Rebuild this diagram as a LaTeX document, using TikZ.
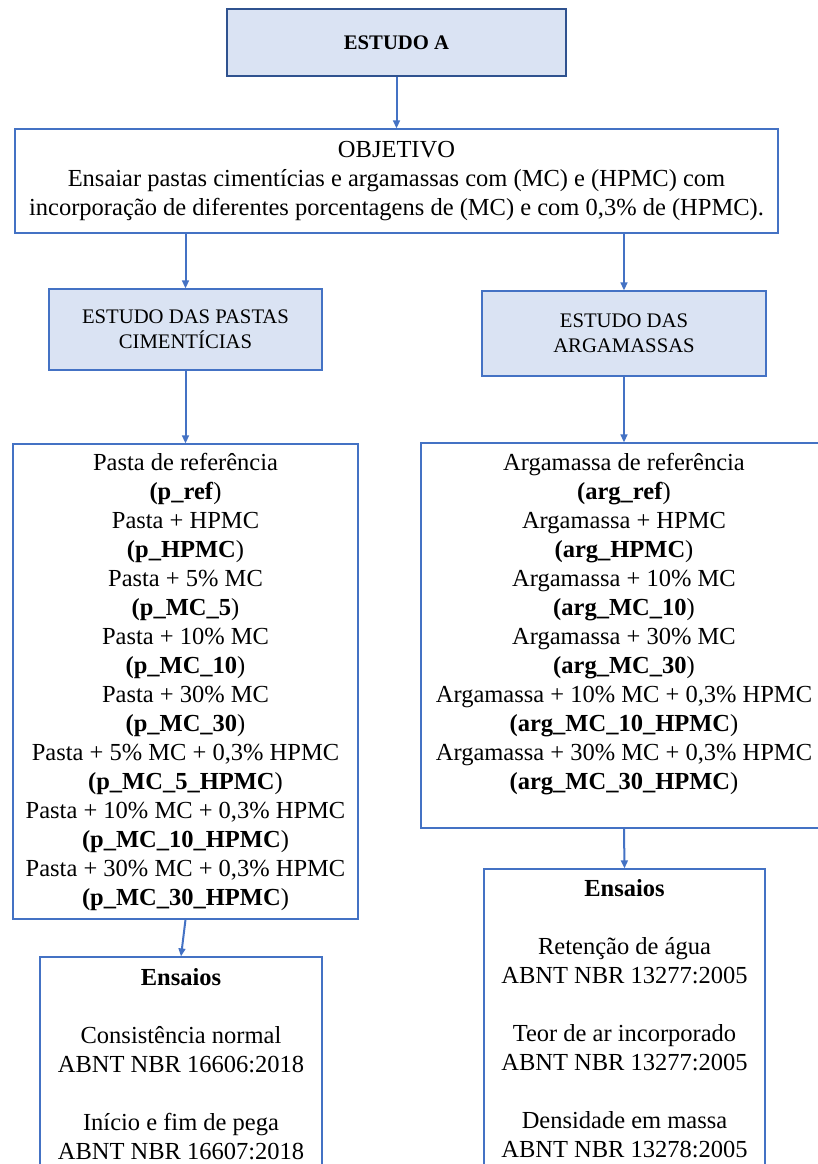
\documentclass[tikz,border=0pt]{standalone}
\usepackage{fontspec}
\setmainfont{Liberation Serif}
\usetikzlibrary{arrows.meta,positioning}
\definecolor{linkblue}{HTML}{4472C4}
\definecolor{boxfill}{HTML}{DAE3F3}
\definecolor{boxline}{HTML}{2F528F}
\newcommand{\bigtxt}{\fontsize{12.25pt}{14.5pt}\selectfont}
\newcommand{\smalltxt}{\fontsize{10.35pt}{12.5pt}\selectfont}
% one sample: description line, then its code in bold
\newcommand{\amostra}[2]{#1\\\textbf{(#2})}

\begin{document}
\begin{tikzpicture}[x=0.5pt,y=-0.5pt,>={Triangle[length=4pt,width=3.4pt]},
  head/.style={draw=boxline,line width=1pt,fill=boxfill,font=\smalltxt\bfseries,
    minimum width=169.5pt,minimum height=33.5pt},
  studybox/.style={draw=linkblue,line width=0.6pt,fill=boxfill,font=\smalltxt,
    align=center,inner sep=2pt},
  listbox/.style={draw=linkblue,line width=0.6pt,fill=white,font=\bigtxt,
    align=center,inner sep=2pt},
  link/.style={->,draw=linkblue,line width=1pt}]

\useasboundingbox (0,0) rectangle (818,1164);
\clip (0,0) rectangle (818,1164);

\node[head] (estudo) at (396.5,42.5) {ESTUDO A};

\node[listbox,minimum width=381.5pt,minimum height=52pt] (obj) at (396.5,181)
  {OBJETIVO\\
   Ensaiar pastas cimentícias e argamassas com (MC) e (HPMC) com\\
   incorporação de diferentes porcentagens de (MC) e com 0,3\% de (HPMC).};

\node[studybox,minimum width=136.5pt,minimum height=40.5pt] (pastas) at (185.5,329.5)
  {ESTUDO DAS PASTAS\\CIMENTÍCIAS};
\node[studybox,minimum width=142pt,minimum height=42.5pt] (argam) at (624,333.5)
  {ESTUDO DAS\\ARGAMASSAS};

% traces of each study
\node[listbox,minimum width=172.5pt,minimum height=237.5pt] (ptracos) at (185.5,681.5)
  {\amostra{Pasta de referência}{p\_ref}\\
   \amostra{Pasta + HPMC}{p\_HPMC}\\
   \amostra{Pasta + 5\% MC}{p\_MC\_5}\\
   \amostra{Pasta + 10\% MC}{p\_MC\_10}\\
   \amostra{Pasta + 30\% MC}{p\_MC\_30}\\
   \amostra{Pasta + 5\% MC + 0,3\% HPMC}{p\_MC\_5\_HPMC}\\
   \amostra{Pasta + 10\% MC + 0,3\% HPMC}{p\_MC\_10\_HPMC}\\
   \amostra{Pasta + 30\% MC + 0,3\% HPMC}{p\_MC\_30\_HPMC}};
\node[listbox,minimum width=203pt,minimum height=192.5pt] (atracos) at (624,635.5)
  {\amostra{Argamassa de referência}{arg\_ref}\\
   \amostra{Argamassa + HPMC}{arg\_HPMC}\\
   \amostra{Argamassa + 10\% MC}{arg\_MC\_10}\\
   \amostra{Argamassa + 30\% MC}{arg\_MC\_30}\\
   \amostra{Argamassa + 10\% MC + 0,3\% HPMC}{arg\_MC\_10\_HPMC}\\
   \amostra{Argamassa + 30\% MC + 0,3\% HPMC}{arg\_MC\_30\_HPMC}\\
   \mbox{}};

% tests
\node[listbox,minimum width=141pt,minimum height=107pt] (pensaios) at (181,1064)
  {\textbf{Ensaios}\\ \mbox{}\\
   Consistência normal\\ABNT NBR 16606:2018\\ \mbox{}\\
   Início e fim de pega\\ABNT NBR 16607:2018};
\node[listbox,minimum width=140.5pt,minimum height=149.5pt] (aensaios) at (624.5,1018.5)
  {\textbf{Ensaios}\\ \mbox{}\\
   Retenção de água\\ABNT NBR 13277:2005\\ \mbox{}\\
   Teor de ar incorporado\\ABNT NBR 13277:2005\\ \mbox{}\\
   Densidade em massa\\ABNT NBR 13278:2005};

\draw[link] (estudo) -- (obj);
\draw[link] (obj.south -| pastas) -- (pastas);
\draw[link] (obj.south -| argam) -- (argam);
\draw[link] (pastas) -- (ptracos);
\draw[link] (argam) -- (atracos);
\draw[link] (ptracos.south) -- (pensaios.north);
\draw[link] (atracos.south) -- (aensaios.north);

\end{tikzpicture}
\end{document}
